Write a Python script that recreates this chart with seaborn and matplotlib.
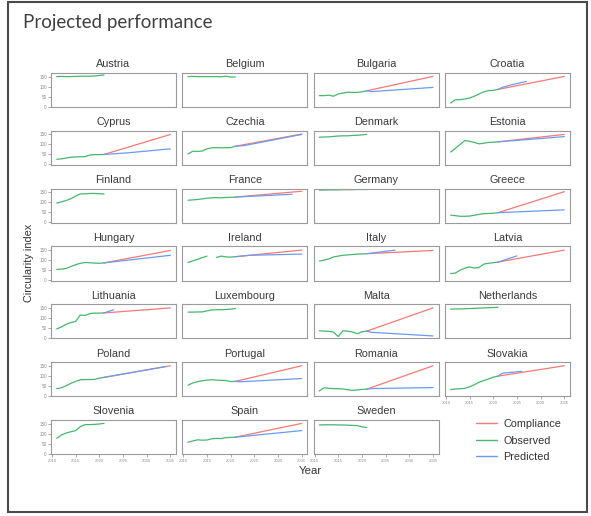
import matplotlib
matplotlib.use("Agg")
import matplotlib.pyplot as plt
import pandas as pd
import seaborn as sns
from matplotlib.lines import Line2D
from matplotlib.patches import Rectangle

# ---------------------------------------------------------------- data
COUNTRIES = ["Austria", "Belgium", "Bulgaria", "Croatia",
             "Cyprus", "Czechia", "Denmark", "Estonia",
             "Finland", "France", "Germany", "Greece",
             "Hungary", "Ireland", "Italy", "Latvia",
             "Lithuania", "Luxembourg", "Malta", "Netherlands",
             "Poland", "Portugal", "Romania", "Slovakia",
             "Slovenia", "Spain", "Sweden"]
SERIES = ["Compliance", "Observed", "Predicted"]
OBS_YEARS = [2011, 2012, 2013, 2014, 2015, 2016, 2017, 2018, 2019, 2020, 2021]
COMP_YEARS = [2021, 2035]
YEAR_TICKS = [2010, 2015, 2020, 2025, 2030, 2035]
INDEX_TICKS = [0, 50, 100, 150]

# observed circularity index (None = no observation that year)
obs_austria = [150, 151, 150, 150, 151, 152, 152, 152, 153, 156, 158]
obs_belgium = [150, 151, 150, 150, 150, 150, 150, 149, 152, 148, 148]
obs_bulgaria = [55, 55, 57, 52, 63, 68, 72, 71, 71, 74, 79]
obs_croatia = [18, 34, 35, 38, 43, 52, 63, 74, 80, 81, 86]
obs_cyprus = [26, 28, 32, 36, 38, 38, 39, 47, 49, 49, 50]
obs_czechia = [52, 66, 65, 67, 78, 83, 84, 83, 84, 84, 91]
obs_denmark = [136, 137, 138, 140, 142, 143, 143, 145, 146, 148, 150]
obs_estonia = [62, 80, 100, 119, 116, 110, 103, 106, 110, 111, 113]
obs_finland = [96, 102, 109, 118, 131, 142, 142, 144, 144, 143, 142]
obs_france = [110, 112, 114, 117, 120, 122, 123, 122, 124, 125, 126]
obs_germany = [161, 161, 162, 162, 162, 163, 163, 163, 164, 164, 164]
obs_greece = [36, 33, 30, 30, 31, 35, 40, 43, 44, 45, 48]
obs_hungary = [53, 55, 58, 68, 77, 84, 88, 87, 85, 84, 86]
obs_ireland = [88, 96, 104, 112, 120, None, 113, 120, 116, 115, 117]
obs_italy = [95, 100, 106, 116, 120, 124, 126, 128, 130, 131, 132]
obs_latvia = [33, 35, 50, 60, 66, 60, 63, 80, 84, 87, 90]
obs_lithuania = [45, 55, 68, 77, 82, 115, 112, 122, 124, 124, 125]
obs_luxembourg = [129, 129, 130, 130, 135, 140, 141, 141, 142, 144, 147]
obs_malta = [36, 34, 33, 29, 7, 36, 34, 30, 21, 31, 34]
obs_netherlands = [144, 145, 145, 146, 147, 148, 149, 150, 151, 152, 153]
obs_poland = [35, 40, 50, 62, 72, 80, 81, 81, 82, 88, 92]
obs_portugal = [53, 64, 70, 75, 78, 80, 78, 77, 76, 71, 72]
obs_romania = [24, 40, 37, 36, 35, 34, 30, 27, 29, 32, 33]
obs_slovakia = [31, 34, 35, 37, 45, 55, 68, 76, 84, 93, 98]
obs_slovenia = [76, 93, 103, 109, 115, 135, 145, 145, 146, 148, 151]
obs_spain = [57, 63, 69, 67, 68, 74, 76, 75, 80, 81, 82]
obs_sweden = [143, 144, 144, 144, 143, 143, 142, 141, 140, 134, 130]

# compliance path: index in 2021 and the 2035 target level
comp_bulgaria = [79, 151]
comp_croatia = [86, 151]
comp_cyprus = [50, 150]
comp_czechia = [91, 152]
comp_estonia = [113, 150]
comp_france = [126, 155]
comp_greece = [48, 153]
comp_hungary = [86, 148]
comp_ireland = [117, 150]
comp_italy = [132, 148]
comp_latvia = [90, 150]
comp_lithuania = [125, 150]
comp_malta = [34, 150]
comp_poland = [92, 150]
comp_portugal = [72, 150]
comp_romania = [33, 150]
comp_slovakia = [98, 150]
comp_spain = [82, 151]

# model predictions
pred_years_bulgaria = [2021, 2022, 2035]
pred_bulgaria = [79, 75, 96]
pred_years_croatia = [2021, 2022, 2024, 2027]
pred_croatia = [86, 97, 110, 126]
pred_years_cyprus = [2021, 2026, 2035]
pred_cyprus = [50, 58, 78]
pred_years_czechia = [2021, 2023, 2035]
pred_czechia = [91, 95, 150]
pred_years_estonia = [2021, 2035]
pred_estonia = [113, 139]
pred_years_france = [2021, 2033]
pred_france = [126, 140]
pred_years_greece = [2021, 2035]
pred_greece = [48, 62]
pred_years_hungary = [2021, 2035]
pred_hungary = [86, 124]
pred_years_ireland = [2021, 2024, 2035]
pred_ireland = [117, 124, 130]
pred_years_italy = [2021, 2027]
pred_italy = [132, 150]
pred_years_latvia = [2021, 2025]
pred_latvia = [90, 121]
pred_years_lithuania = [2021, 2023]
pred_lithuania = [125, 141]
pred_years_malta = [2021, 2022, 2035]
pred_malta = [34, 28, 10]
pred_years_poland = [2021, 2034]
pred_poland = [92, 146]
pred_years_portugal = [2021, 2022, 2035]
pred_portugal = [72, 70, 86]
pred_years_romania = [2021, 2022, 2035]
pred_romania = [33, 36, 41]
pred_years_slovakia = [2021, 2022, 2026]
pred_slovakia = [98, 113, 122]
pred_years_spain = [2021, 2035]
pred_spain = [82, 115]

PALETTE = {"Compliance": "#F47A73", "Observed": "#45B86C", "Predicted": "#6A9BF0"}

# ---------------------------------------------------------------- long table
rows = []


def add_series(country, series, years, values):
    seg = 0
    for yr, val in zip(years, values):
        if val is None:
            seg += 1
            continue
        rows.append({"country": country, "series": series, "year": yr,
                     "value": val, "seg": f"{series}-{seg}"})


ns = globals()
for name in COUNTRIES:
    key = name.lower()
    add_series(name, "Observed", OBS_YEARS, ns[f"obs_{key}"])
    if f"comp_{key}" in ns:
        add_series(name, "Compliance", COMP_YEARS, ns[f"comp_{key}"])
    if f"pred_{key}" in ns:
        add_series(name, "Predicted", ns[f"pred_years_{key}"], ns[f"pred_{key}"])

df = pd.DataFrame(rows)

# ---------------------------------------------------------------- plot
sns.set_theme(style="white")
plt.rcParams["font.family"] = ["Liberation Sans", "DejaVu Sans"]

W, H = 591, 516
g = sns.relplot(data=df, x="year", y="value", hue="series", hue_order=SERIES,
                palette=PALETTE, units="seg", estimator=None,
                col="country", col_order=COUNTRIES, col_wrap=4, kind="line",
                linewidth=0.9, height=1.0, aspect=1.0, legend=False,
                facet_kws=dict(sharex=True, sharey=True, despine=False))
fig = g.figure
fig.set_size_inches(W / 100, H / 100)
fig.set_dpi(100)
fig.subplots_adjust(left=51 / W, right=570 / W, top=1 - 73 / H,
                    bottom=1 - 454 / H, wspace=0.05, hspace=0.70)

g.set_titles("{col_name}", size=7.8, color="#3a3a3a", pad=4)
g.set_axis_labels("", "")

n = len(COUNTRIES)
for i, ax in enumerate(g.axes.flat):
    ax.set_xlim(2009.8, 2036.2)
    ax.set_ylim(-2, 168)
    ax.set_xticks(YEAR_TICKS)
    ax.set_yticks(INDEX_TICKS)
    for sp in ax.spines.values():
        sp.set_visible(True)
        sp.set_color("#9a9a9a")
        sp.set_linewidth(0.8)
    is_left = i % 4 == 0
    is_bottom = i + 4 >= n
    ax.tick_params(axis="y", left=is_left, labelleft=is_left, length=2,
                   width=0.5, color="#888888", pad=1, labelsize=3.3,
                   labelcolor="#8a8a8a")
    ax.tick_params(axis="x", bottom=is_bottom, labelbottom=is_bottom,
                   length=2, width=0.5, color="#888888", pad=1.5,
                   labelsize=3.0, labelcolor="#8a8a8a")

fig.text(310 / W, 1 - 471 / H, "Year", ha="center", va="center",
         fontsize=8.2, color="#333333")
fig.text(29 / W, 1 - 263 / H, "Circularity index", ha="center", va="center",
         rotation=90, fontsize=7.8, color="#333333")

handles = [Line2D([], [], color=PALETTE[s], lw=1.0) for s in SERIES]
fig.legend(handles, SERIES, loc="upper left",
           bbox_to_anchor=(476 / W, 1 - 419 / H), frameon=False,
           fontsize=7.8, handlelength=1.95, handletextpad=0.6,
           labelspacing=0.6, borderpad=0, borderaxespad=0,
           labelcolor="#333333")

fig.text(23 / W, 1 - 28 / H, "Projected performance", ha="left",
         va="baseline", fontsize=13.5, family=["Lato", "DejaVu Sans"],
         color="#404040")

fig.add_artist(Rectangle((8 / W, 4 / H), 579 / W, 510 / H,
                         transform=fig.transFigure, fill=False,
                         edgecolor="#4a4a4a", linewidth=1.5))

fig.savefig("out.png", dpi=100)
